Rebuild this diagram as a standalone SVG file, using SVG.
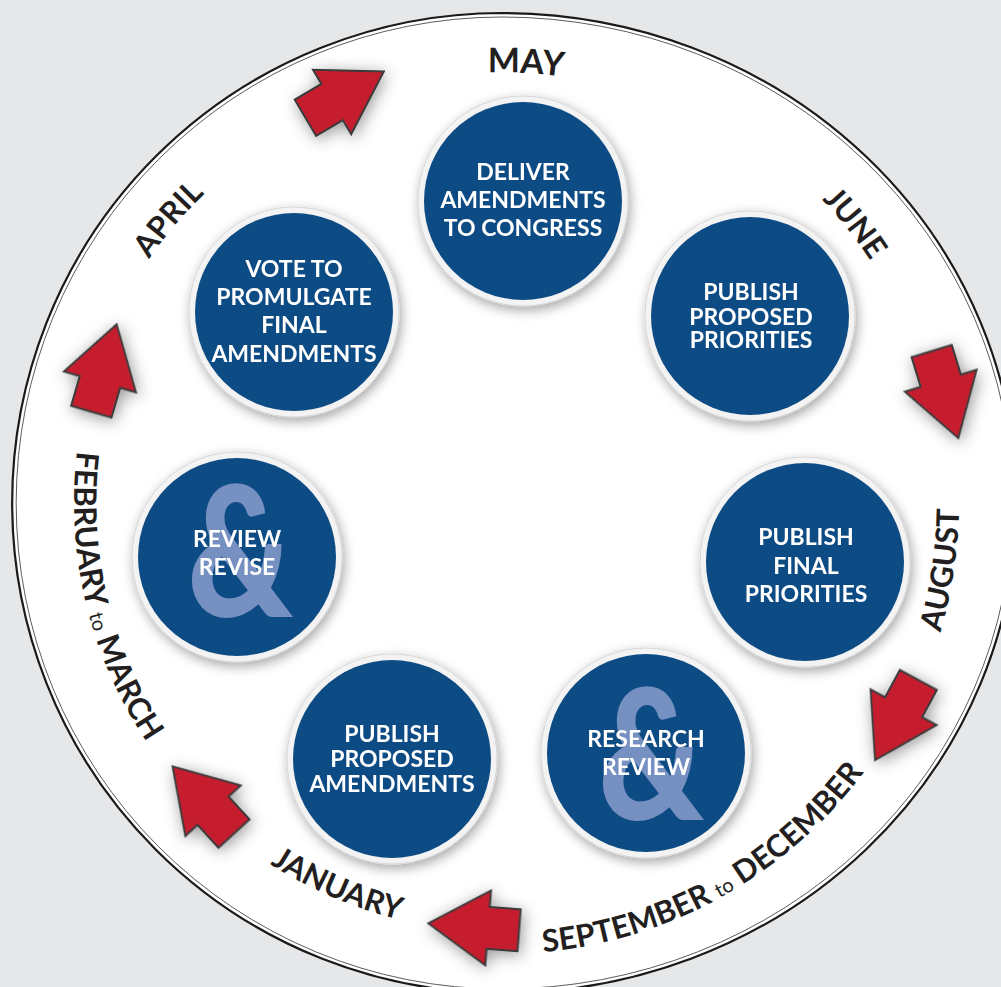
<svg xmlns="http://www.w3.org/2000/svg" xmlns:xlink="http://www.w3.org/1999/xlink" width="1001" height="987" viewBox="0 0 1001 987">
  <style>
    .bg { fill: #e6e7e9; }
    .plate { fill: #ffffff; stroke: #1a1a1a; stroke-width: 2.2; }
    .plate-inner { fill: none; stroke: #4a4a4a; stroke-width: 0.9; }
    .ring { fill: #f3f3f3; stroke: #d6d6d6; stroke-width: 1; }
    .disc { fill: #104c85; }
    .lbl { font-family: Lato, "Liberation Sans", sans-serif; font-weight: 700; font-size: 23px; fill: #ffffff; text-anchor: middle; }
    .amp { font-family: Lato, "Liberation Sans", sans-serif; font-weight: 900; font-size: 182px; fill: #7490c1; text-anchor: middle; }
    .month { font-family: Lato, "Liberation Sans", sans-serif; font-weight: 700; font-size: 31px; fill: #231f20; }
    .small { font-size: 20px; font-weight: 400; }
    .arrow { fill: #c51f2e; stroke: #3a3a3a; stroke-width: 2; stroke-linejoin: miter; }
  </style>
  <defs>
    <filter id="shade" x="-30%" y="-30%" width="160%" height="160%">
      <feDropShadow dx="2" dy="4" stdDeviation="6" flood-color="#000" flood-opacity="0.35"/>
    </filter>
    <filter id="glow" x="-50%" y="-50%" width="200%" height="200%">
      <feDropShadow dx="2" dy="3" stdDeviation="8" flood-color="#000" flood-opacity="0.4"/>
    </filter>
    <!-- block arrow pointing along +x, centred on the origin -->
    <polygon id="blockArrow" class="arrow" points="45.5,0 -14.5,37.5 -14.5,21 -45.5,21 -45.5,-21 -14.5,-21 -14.5,-37.5"/>
    <!-- baselines for the month labels -->
    <path id="pMay" d="M307.2,119.0 A430.6,430.6 0 0 1 737.2,142.3"/>
    <path id="pApr" d="M80.1,425.6 A429,429 0 0 1 358.1,98.8"/>
    <path id="pJun" d="M664.3,93.0 A441,441 0 0 1 938.3,438.6"/>
    <path id="pAug" d="M859.1,788.1 A457,457 0 0 0 927.5,336.2"/>
    <path id="pSep" d="M418.3,946.2 A451,451 0 0 0 923.9,662.4"/>
    <path id="pJan" d="M158.1,759.5 A429,429 0 0 0 552.4,929.0"/>
    <path id="pFeb" d="M119.0,312.0 A428,428 0 0 0 247.4,847.1"/>
  </defs>

  <rect class="bg" x="0" y="0" width="1001" height="987"/>

  <!-- calendar plate -->
  <g id="plate">
    <path class="plate" d="M502,13 A490,490 0 0 0 502,993 A515,490 0 0 0 502,13 Z"/>
    <path class="plate-inner" d="M502,17 A486,486 0 0 0 502,989 A511,486 0 0 0 502,17 Z"/>
  </g>

  <!-- month labels around the rim -->
  <g id="months">
    <text class="month" style="font-size:34px"><textPath href="#pMay" xlink:href="#pMay" startOffset="50%" text-anchor="middle">MAY</textPath></text>
    <text class="month"><textPath href="#pApr" xlink:href="#pApr" startOffset="50%" text-anchor="middle">APRIL</textPath></text>
    <text class="month"><textPath href="#pJun" xlink:href="#pJun" startOffset="50%" text-anchor="middle">JUNE</textPath></text>
    <text class="month"><textPath href="#pAug" xlink:href="#pAug" startOffset="50%" text-anchor="middle">AUGUST</textPath></text>
    <text class="month"><textPath href="#pSep" xlink:href="#pSep" startOffset="50%" text-anchor="middle">SEPTEMBER <tspan class="small">to</tspan> DECEMBER</textPath></text>
    <text class="month"><textPath href="#pJan" xlink:href="#pJan" startOffset="50%" text-anchor="middle">JANUARY</textPath></text>
    <text class="month"><textPath href="#pFeb" xlink:href="#pFeb" startOffset="50%" text-anchor="middle">FEBRUARY <tspan class="small">to</tspan> MARCH</textPath></text>
  </g>

  <!-- arrows between the stages -->
  <g id="connectors" filter="url(#glow)">
    <use href="#blockArrow" xlink:href="#blockArrow" transform="translate(344.6,94.6) rotate(-30.6)"/>
    <use href="#blockArrow" xlink:href="#blockArrow" transform="translate(945,394.6) rotate(73)"/>
    <use href="#blockArrow" xlink:href="#blockArrow" transform="translate(896.7,720) rotate(118.4)"/>
    <use href="#blockArrow" xlink:href="#blockArrow" transform="translate(473.7,926.8) rotate(184.4)"/>
    <use href="#blockArrow" xlink:href="#blockArrow" transform="translate(203.3,800) rotate(-132.4)"/>
    <use href="#blockArrow" xlink:href="#blockArrow" transform="translate(104,368) rotate(-73.8)"/>
  </g>

  <!-- stages -->
  <g id="node-deliver" filter="url(#shade)">
    <circle class="ring" cx="523" cy="201" r="105"/>
    <circle class="disc" cx="523" cy="201" r="99"/>
    <text class="lbl" x="523" y="180">DELIVER</text>
    <text class="lbl" x="523" y="208">AMENDMENTS</text>
    <text class="lbl" x="523" y="236">TO CONGRESS</text>
  </g>

  <g id="node-proposed-priorities" filter="url(#shade)">
    <circle class="ring" cx="750" cy="316" r="105"/>
    <circle class="disc" cx="750" cy="316" r="99"/>
    <text class="lbl" x="751" y="300">PUBLISH</text>
    <text class="lbl" x="751" y="325">PROPOSED</text>
    <text class="lbl" x="751" y="348">PRIORITIES</text>
  </g>

  <g id="node-final-priorities" filter="url(#shade)">
    <circle class="ring" cx="805" cy="562" r="105"/>
    <circle class="disc" cx="805" cy="562" r="99"/>
    <text class="lbl" x="806" y="545">PUBLISH</text>
    <text class="lbl" x="806" y="574">FINAL</text>
    <text class="lbl" x="806" y="602">PRIORITIES</text>
  </g>

  <g id="node-research" filter="url(#shade)">
    <circle class="ring" cx="646" cy="753" r="105"/>
    <circle class="disc" cx="646" cy="753" r="99"/>
    <text class="amp" transform="translate(651,820) scale(0.8,1)">&amp;</text>
    <text class="lbl" x="646" y="747">RESEARCH</text>
    <text class="lbl" x="646" y="775">REVIEW</text>
  </g>

  <g id="node-proposed-amendments" filter="url(#shade)">
    <circle class="ring" cx="392" cy="759" r="105"/>
    <circle class="disc" cx="392" cy="759" r="99"/>
    <text class="lbl" x="392" y="742">PUBLISH</text>
    <text class="lbl" x="392" y="767">PROPOSED</text>
    <text class="lbl" x="392" y="792">AMENDMENTS</text>
  </g>

  <g id="node-review" filter="url(#shade)">
    <circle class="ring" cx="237" cy="557" r="105"/>
    <circle class="disc" cx="237" cy="557" r="99"/>
    <text class="amp" transform="translate(240,617) scale(0.8,1)">&amp;</text>
    <text class="lbl" x="237" y="547">REVIEW</text>
    <text class="lbl" x="237" y="575">REVISE</text>
  </g>

  <g id="node-vote" filter="url(#shade)">
    <circle class="ring" cx="294" cy="312" r="105"/>
    <circle class="disc" cx="294" cy="312" r="99"/>
    <text class="lbl" x="294" y="277">VOTE TO</text>
    <text class="lbl" x="294" y="305">PROMULGATE</text>
    <text class="lbl" x="294" y="333">FINAL</text>
    <text class="lbl" x="294" y="362">AMENDMENTS</text>
  </g>
</svg>
